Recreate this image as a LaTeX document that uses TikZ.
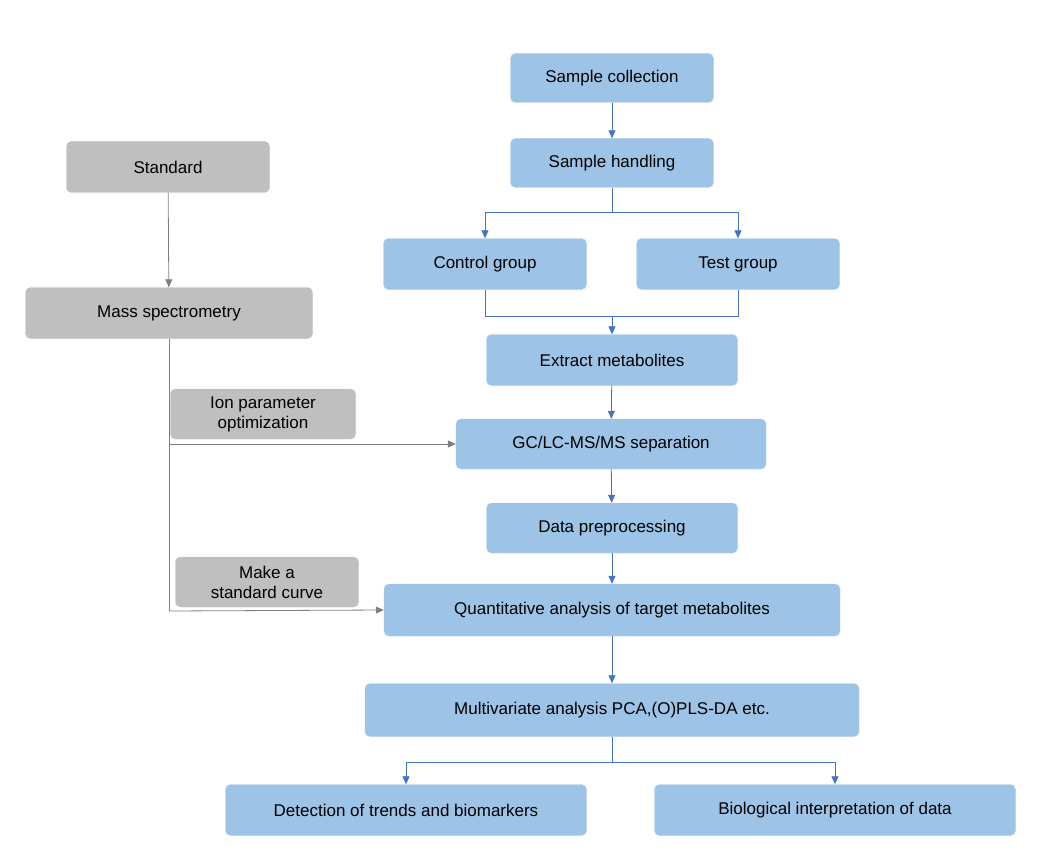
\documentclass[tikz,border=0pt]{standalone}
\usepackage{fontspec}
\setmainfont{Liberation Sans}
\usetikzlibrary{arrows.meta}
\definecolor{bfill}{HTML}{9DC3E6}
\definecolor{bline}{HTML}{4472C4}
\definecolor{gfill}{HTML}{BFBFBF}
\definecolor{gline}{HTML}{7F7F7F}
\begin{document}
\begin{tikzpicture}[x=1pt,y=-1pt,
  bx/.style={draw=bfill!80!white,fill=bfill,rounded corners=5pt,inner sep=0pt,align=center,font=\fontsize{17}{20}\selectfont},
  gx/.style={draw=gfill,fill=gfill,rounded corners=5pt,inner sep=0pt,align=center,font=\fontsize{17}{20}\selectfont},
  ba/.style={draw=bline,line width=0.8pt,-{Triangle[length=8pt,width=7pt]}},
  bl/.style={draw=bline,line width=0.8pt},
  ga/.style={draw=gline,line width=0.8pt,-{Triangle[length=8pt,width=7pt]}},
  gl/.style={draw=gline,line width=0.8pt}]
\useasboundingbox (0,0) rectangle (1037,864);
\node[bx,minimum width=203pt,minimum height=49pt] (sc) at (612,78) {Sample collection};
\node[bx,minimum width=203pt,minimum height=49pt] (sh) at (612,163) {Sample handling};
\node[bx,minimum width=203pt,minimum height=51pt] (cg) at (485,264) {Control group};
\node[bx,minimum width=203pt,minimum height=51pt] (tg) at (738,264) {Test group};
\node[bx,minimum width=251pt,minimum height=51pt] (em) at (612,360) {Extract metabolites};
\node[bx,minimum width=310pt,minimum height=50pt] (gc) at (611,444) {GC/LC-MS/MS separation};
\node[bx,minimum width=251pt,minimum height=50pt] (dp) at (612,528) {Data preprocessing};
\node[bx,minimum width=456pt,minimum height=52pt] (qa) at (612,610) {Quantitative analysis of target metabolites};
\node[bx,minimum width=494pt,minimum height=53pt] (mv) at (612,710) {Multivariate analysis PCA,(O)PLS-DA etc.};
\node[bx,minimum width=361pt,minimum height=51pt] (dt) at (406,810) {Detection of trends and biomarkers};
\node[bx,minimum width=361pt,minimum height=51pt] (bi) at (835,810) {Biological interpretation of data};
\node[gx,minimum width=203pt,minimum height=51pt] (st) at (168,167) {Standard};
\node[gx,minimum width=287pt,minimum height=51pt] (ms) at (169,313) {Mass spectrometry};
\node[gx,minimum width=185pt,minimum height=50pt] (ip) at (263,414) {Ion parameter\\optimization};
\node[gx,minimum width=183pt,minimum height=50pt] (mc) at (267,582) {Make a\\standard curve};
\coordinate (j1) at (612,212);
\coordinate (j2) at (612,316);
\coordinate (j3) at (612,762);
\coordinate (k1) at (169,444);
\coordinate (k2) at (169,611);
\draw[ba] (sc) -- (sh);
\draw[bl] (sh.south) -- (j1);
\draw[ba] (j1) -| (cg.north);
\draw[ba] (j1) -| (tg.north);
\draw[bl] (cg.south) |- (j2);
\draw[bl] (tg.south) |- (j2);
\draw[ba] (j2) -- (em.north);
\draw[ba] (em) -- (gc);
\draw[ba] (gc) -- (dp);
\draw[ba] (dp) -- (qa);
\draw[ba] (qa) -- (mv);
\draw[bl] (mv.south) -- (j3);
\draw[ba] (j3) -| (dt.north);
\draw[ba] (j3) -| (bi.north);
\draw[ga] (st) -- (ms);
\draw[gl] (ms.south) -- (k2);
\draw[ga] (k1) -- (gc.west);
\draw[ga] (k2) -- (qa.west);
\end{tikzpicture}
\end{document}
